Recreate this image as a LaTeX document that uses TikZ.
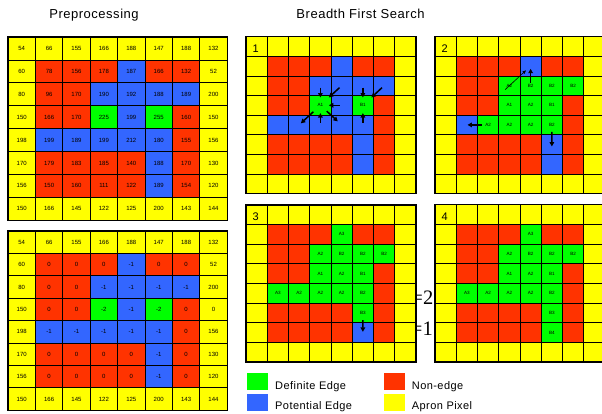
\documentclass[tikz,border=0pt]{standalone}
\usepackage{fontspec}
\setmainfont{Liberation Sans}
\newfontfamily\spaced{Liberation Sans}[LetterSpace=4]
\newfontfamily\serifnum{Liberation Serif}
\usetikzlibrary{arrows.meta,calc}
\definecolor{cY}{HTML}{FFFF00}
\definecolor{cR}{HTML}{FF3300}
\definecolor{cB}{HTML}{3366FF}
\definecolor{cG}{HTML}{00FF00}

\tikzset{
  gridline/.style={draw=black,line width=0.7pt},
  frame/.style={draw=black,line width=1.4pt},
  cellnum/.style={inner sep=0pt,text=black},
  arr/.style={-{Triangle[length=4.4pt,width=4.6pt]},line width=1.5pt},
  thinarr/.style={-{Triangle[length=3.4pt,width=3pt]},line width=0.6pt},
  title/.style={font=\spaced\fontsize{13}{15}\selectfont,anchor=base,inner sep=0pt},
  legtext/.style={font=\spaced\fontsize{11}{13}\selectfont,anchor=base west,inner sep=0pt},
  swatch/.style={minimum width=21pt,minimum height=16.6pt,inner sep=0pt,anchor=north west},
  panelno/.style={font=\fontsize{11}{13}\selectfont,inner sep=0pt},
  stray/.style={font=\serifnum\fontsize{20.5}{22}\selectfont,anchor=base east,inner sep=0pt}
}

% #1 name, #2 x0, #3 y0, #4 cell width, #5 cell height, #6 font size, #7 rows
\newcommand\cellgrid[7]{%
  \foreach \rowlist [count=\r from 0] in {#7} {
    \foreach \cl/\lab [count=\k from 0] in \rowlist {
      \fill[fill=c\cl] ({#2+\k*#4},{#3+\r*#5}) rectangle ++(#4,#5);
      \node[cellnum,font=\fontsize{#6}{#6}\selectfont] (#1-\r-\k) at ({#2+(\k+0.5)*#4},{#3+(\r+0.5)*#5}) {\lab};
    }
  }
  \foreach \i in {1,...,7} {
    \draw[gridline] ({#2+\i*#4},#3) -- ++(0,8*#5);
    \draw[gridline] (#2,{#3+\i*#5}) -- ++(8*#4,0);
  }
  \draw[frame] (#2,#3) rectangle ++(8*#4,8*#5);
}

\newcommand\inarr[5]{\draw[arr] ($(#1-#2-#3.center)!0.9!(#1-#4-#5.center)$) -- ($(#1-#2-#3.center)!0.4!(#1-#4-#5.center)$);}
\newcommand\outarr[7]{\draw[arr] ($(#1-#2-#3.center)!#6!(#1-#4-#5.center)$) -- ($(#1-#2-#3.center)!#7!(#1-#4-#5.center)$);}

\begin{document}
\begin{tikzpicture}[x=1pt,y=-1pt]
\useasboundingbox (0,0) rectangle (602,413);
\fill[white] (0,0) rectangle (602,413);

% titles
\node[title] (t1) at (94,18.3) {Preprocessing};
\node[title] (t2) at (360.5,18.3) {Breadth First Search};

% stray labels between panels 3 and 4
\node[stray] (s2) at (433.5,304) {=2};
\node[stray] (s1) at (433,335) {=1};

% preprocessing grid 1
\cellgrid{g1}{8}{37}{27.4}{22.9}{6}{
 {Y/54,Y/66,Y/155,Y/166,Y/188,Y/147,Y/188,Y/132},
 {Y/60,R/78,R/156,R/178,B/187,R/166,R/132,Y/52},
 {Y/80,R/96,R/170,B/190,B/192,B/188,B/189,Y/200},
 {Y/150,R/166,R/170,G/225,B/199,G/255,R/160,Y/150},
 {Y/198,B/199,B/189,B/199,B/212,B/180,R/155,Y/156},
 {Y/170,R/179,R/183,R/185,R/140,B/188,R/170,Y/130},
 {Y/156,R/150,R/160,R/111,R/122,B/189,R/154,Y/120},
 {Y/150,Y/166,Y/145,Y/122,Y/125,Y/200,Y/143,Y/144}}

% preprocessing grid 2
\cellgrid{g2}{8}{231}{27.4}{22.4}{6}{
 {Y/54,Y/66,Y/155,Y/166,Y/188,Y/147,Y/188,Y/132},
 {Y/60,R/0,R/0,R/0,B/-1,R/0,R/0,Y/52},
 {Y/80,R/0,R/0,B/-1,B/-1,B/-1,B/-1,Y/200},
 {Y/150,R/0,R/0,G/-2,B/-1,G/-2,R/0,Y/0},
 {Y/198,B/-1,B/-1,B/-1,B/-1,B/-1,R/0,Y/156},
 {Y/170,R/0,R/0,R/0,R/0,B/-1,R/0,Y/130},
 {Y/156,R/0,R/0,R/0,R/0,B/-1,R/0,Y/120},
 {Y/150,Y/166,Y/145,Y/122,Y/125,Y/200,Y/143,Y/144}}

% BFS panel 1
\cellgrid{p1}{246}{36.7}{21.25}{19.6}{4.6}{
 {Y/{},Y/{},Y/{},Y/{},Y/{},Y/{},Y/{},Y/{}},
 {Y/{},R/{},R/{},R/{},B/{},R/{},R/{},Y/{}},
 {Y/{},R/{},R/{},B/{},B/{},B/{},B/{},Y/{}},
 {Y/{},R/{},R/{},G/A1,B/{},G/B1,R/{},Y/{}},
 {Y/{},B/{},B/{},B/{},B/{},B/{},R/{},Y/{}},
 {Y/{},R/{},R/{},R/{},R/{},B/{},R/{},Y/{}},
 {Y/{},R/{},R/{},R/{},R/{},B/{},R/{},Y/{}},
 {Y/{},Y/{},Y/{},Y/{},Y/{},Y/{},Y/{},Y/{}}}

% BFS panel 2
\cellgrid{p2}{435}{36.7}{21.25}{19.6}{4.6}{
 {Y/{},Y/{},Y/{},Y/{},Y/{},Y/{},Y/{},Y/{}},
 {Y/{},R/{},R/{},R/{},B/{},R/{},R/{},Y/{}},
 {Y/{},R/{},R/{},G/A2,G/B2,G/B2,G/B2,Y/{}},
 {Y/{},R/{},R/{},G/A1,G/A2,G/B1,R/{},Y/{}},
 {Y/{},B/{},G/A2,G/A2,G/A2,G/B2,R/{},Y/{}},
 {Y/{},R/{},R/{},R/{},R/{},B/{},R/{},Y/{}},
 {Y/{},R/{},R/{},R/{},R/{},B/{},R/{},Y/{}},
 {Y/{},Y/{},Y/{},Y/{},Y/{},Y/{},Y/{},Y/{}}}

% BFS panel 3
\cellgrid{p3}{246}{205}{21.25}{19.6}{4.6}{
 {Y/{},Y/{},Y/{},Y/{},Y/{},Y/{},Y/{},Y/{}},
 {Y/{},R/{},R/{},R/{},G/A3,R/{},R/{},Y/{}},
 {Y/{},R/{},R/{},G/A2,G/B2,G/B2,G/B2,Y/{}},
 {Y/{},R/{},R/{},G/A1,G/A2,G/B1,R/{},Y/{}},
 {Y/{},G/A3,G/A2,G/A2,G/A2,G/B2,R/{},Y/{}},
 {Y/{},R/{},R/{},R/{},R/{},G/B3,R/{},Y/{}},
 {Y/{},R/{},R/{},R/{},R/{},B/{},R/{},Y/{}},
 {Y/{},Y/{},Y/{},Y/{},Y/{},Y/{},Y/{},Y/{}}}

% BFS panel 4
\cellgrid{p4}{435}{204.5}{21.25}{19.7}{4.6}{
 {Y/{},Y/{},Y/{},Y/{},Y/{},Y/{},Y/{},Y/{}},
 {Y/{},R/{},R/{},R/{},G/A3,R/{},R/{},Y/{}},
 {Y/{},R/{},R/{},G/A2,G/B2,G/B2,G/B2,Y/{}},
 {Y/{},R/{},R/{},G/A1,G/A2,G/B1,R/{},Y/{}},
 {Y/{},G/A3,G/A2,G/A2,G/A2,G/B2,R/{},Y/{}},
 {Y/{},R/{},R/{},R/{},R/{},G/B3,R/{},Y/{}},
 {Y/{},R/{},R/{},R/{},R/{},G/B4,R/{},Y/{}},
 {Y/{},Y/{},Y/{},Y/{},Y/{},Y/{},Y/{},Y/{}}}

% panel numbers
\node[panelno] (n1) at ($(p1-0-0.center)+(-1,2)$) {1};
\node[panelno] (n2) at ($(p2-0-0.center)+(-1,2)$) {2};
\node[panelno] (n3) at ($(p3-0-0.center)+(-1,2)$) {3};
\node[panelno] (n4) at ($(p4-0-0.center)+(-1,2)$) {4};

% panel 1 arrows
\inarr{p1}{3}{3}{2}{3}
\inarr{p1}{3}{3}{2}{4}
\inarr{p1}{3}{3}{3}{4}
\inarr{p1}{3}{3}{4}{3}
\outarr{p1}{3}{3}{4}{2}{0.33}{0.92}
\outarr{p1}{3}{3}{4}{4}{0.3}{0.82}
\inarr{p1}{3}{5}{2}{5}
\inarr{p1}{3}{5}{2}{6}
\inarr{p1}{3}{5}{4}{5}

% panel 2 arrows
\draw[thinarr] ($(p2-2-3.center)!-0.2!(p2-1-4.center)$) -- ($(p2-2-3.center)!0.78!(p2-1-4.center)$);
\outarr{p2}{2}{4}{1}{4}{0.14}{0.86}
\outarr{p2}{4}{2}{4}{1}{0.3}{0.97}
\outarr{p2}{4}{5}{5}{5}{0.35}{1.1}

% panel 3 arrow
\outarr{p3}{5}{5}{6}{5}{0.37}{0.97}

% legend
\node[swatch,fill=cG] (lg) at (247,372.7) {};
\node[swatch,fill=cB] (lb) at (247,394.2) {};
\node[swatch,fill=cR] (lr) at (384,372.7) {};
\node[swatch,fill=cY] (ly) at (384,394.2) {};
\node[legtext] (tg) at (275,389) {Definite Edge};
\node[legtext] (tb) at (275,409) {Potential Edge};
\node[legtext] (tr) at (411.7,389) {Non-edge};
\node[legtext] (ty) at (411.7,409) {Apron Pixel};
\end{tikzpicture}
\end{document}
